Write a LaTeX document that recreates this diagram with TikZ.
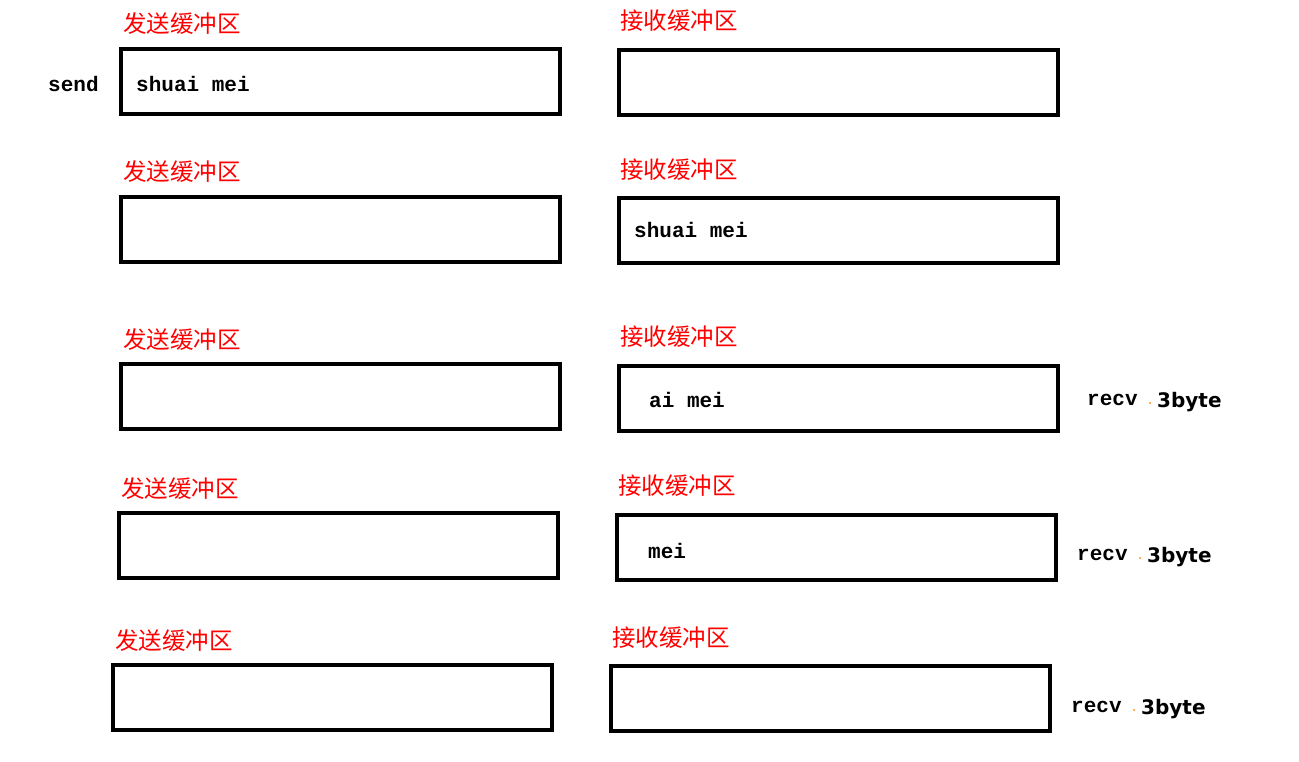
\documentclass[tikz,border=0pt]{standalone}
\usepackage{fontspec}
\newfontfamily\cjk{Noto Sans CJK SC}
\newfontfamily\mono{Liberation Mono}
\newfontfamily\sans{DejaVu Sans}
\begin{document}
\begin{tikzpicture}[x=1pt,y=-1pt,
  buf/.style={draw=black,line width=4pt},
  lab/.style={anchor=west,text=red,font=\cjk\fontsize{23.5}{23.5}\selectfont,inner sep=0},
  txt/.style={anchor=west,font=\mono\bfseries\fontsize{21}{21}\selectfont,inner sep=0},
  num/.style={anchor=west,font=\sans\bfseries\fontsize{20}{20}\selectfont,inner sep=0}]
\fill[white] (0,0) rectangle (1299,762);
\useasboundingbox (0,0) rectangle (1299,762);
\foreach \i/\lx/\ly/\rx/\ry/\ll/\rl in {1/121/49/619/50/24/21, 2/121/197/619/198/172/170, 3/121/364/619/366/340/337, 4/119/513/617/515/489/486, 5/113/665/611/666/641/638}{
  \draw[buf] (\lx,\ly) rectangle ++(439,65);
  \draw[buf] (\rx,\ry) rectangle ++(439,65);
  \node[lab] (ls\i) at (\lx+2,\ll) {发送缓冲区};
  \node[lab] (lr\i) at (\rx+1,\rl) {接收缓冲区};
}
\node[txt] (send) at (48,84) {send};
\node[txt] (t1) at (136,84) {shuai mei};
\node[txt] (t2) at (634,230) {shuai mei};
\node[txt] (t3) at (649,400) {ai mei};
\node[txt] (t4) at (648,551) {mei};
\foreach \i/\x/\y in {3/1087/400, 4/1077/555, 5/1071/707}{
  \node[txt] (rv\i) at (\x,\y) {recv};
  \fill[orange] (\x+63,\y+3) circle (1);
  \node[num] (b\i) at (\x+70,\y+2) {3byte};
}
\end{tikzpicture}
\end{document}
